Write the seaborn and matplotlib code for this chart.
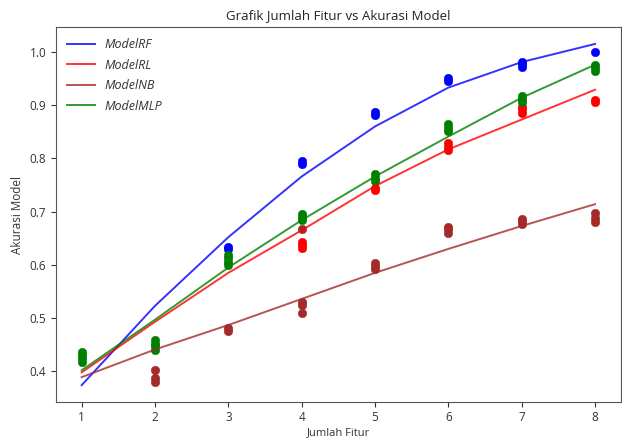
import numpy as np
import pandas as pd
import matplotlib
matplotlib.use("Agg")
import matplotlib.pyplot as plt
import seaborn as sns

plt.rcParams["font.family"] = ["Open Sans", "DejaVu Sans"]

models = ["ModelRF", "ModelRL", "ModelNB", "ModelMLP"]
colors = ["blue", "red", "brown", "green"]

fitur = [1, 2, 3, 4, 5, 6, 7, 8]
rf_fit = [0.374, 0.523, 0.652, 0.766, 0.860, 0.933, 0.981, 1.015]
rl_fit = [0.398, 0.493, 0.585, 0.665, 0.748, 0.817, 0.873, 0.929]
nb_fit = [0.389, 0.441, 0.487, 0.536, 0.585, 0.630, 0.673, 0.714]
mlp_fit = [0.402, 0.497, 0.595, 0.684, 0.766, 0.841, 0.914, 0.976]

rf_x = [3, 3, 4, 4, 5, 5, 6, 6, 7, 7, 7, 8]
rf_y = [0.629, 0.634, 0.790, 0.795, 0.882, 0.888, 0.945, 0.951, 0.972, 0.977, 0.982, 1.000]
rl_x = [4, 4, 4, 5, 5, 6, 6, 6, 7, 7, 7, 8, 8]
rl_y = [0.632, 0.638, 0.643, 0.740, 0.745, 0.815, 0.822, 0.828, 0.886, 0.892, 0.897, 0.905, 0.909]
nb_x = [2, 2, 2, 3, 3, 4, 4, 4, 4, 5, 5, 5, 6, 6, 6, 7, 7, 7, 8, 8, 8]
nb_y = [0.380, 0.388, 0.402, 0.475, 0.481, 0.510, 0.525, 0.531, 0.667, 0.592, 0.598, 0.604,
        0.660, 0.667, 0.672, 0.677, 0.683, 0.687, 0.680, 0.688, 0.698]
mlp_x = [1, 1, 1, 1, 2, 2, 2, 2, 3, 3, 3, 3, 4, 4, 4, 5, 5, 5, 6, 6, 6, 7, 7, 7, 8, 8, 8]
mlp_y = [0.418, 0.425, 0.431, 0.436, 0.440, 0.447, 0.452, 0.458, 0.600, 0.606, 0.612, 0.619,
         0.684, 0.690, 0.696, 0.757, 0.764, 0.770, 0.852, 0.858, 0.865, 0.906, 0.912, 0.918,
         0.964, 0.970, 0.975]

fits = [rf_fit, rl_fit, nb_fit, mlp_fit]
pts = [(rf_x, rf_y), (rl_x, rl_y), (nb_x, nb_y), (mlp_x, mlp_y)]

fig, ax = plt.subplots(figsize=(6.22, 4.41), dpi=100)
fig.subplots_adjust(left=0.09, right=0.998, top=0.939, bottom=0.088)

for m, c, f, (px, py) in zip(models, colors, fits, pts):
    sns.lineplot(x=fitur, y=f, ax=ax, color=c, lw=1.4, alpha=0.8, label=m)
for m, c, f, (px, py) in zip(models, colors, fits, pts):
    sns.scatterplot(x=px, y=py, ax=ax, color=c, s=38, edgecolor=c, linewidth=0.3, zorder=1)

ax.set_xticks(fitur)
ax.set_yticks([0.4, 0.5, 0.6, 0.7, 0.8, 0.9, 1.0])
ax.set_yticklabels(["0.4", "0.5", "0.6", "0.7", "0.8", "0.9", "1.0"])
ax.set_xlim(0.65, 8.35)
ax.set_ylim(0.342, 1.047)
ax.tick_params(labelsize=8.5, colors="#333333", length=3.5)
ax.tick_params(axis="x", pad=3)
for s in ax.spines.values():
    s.set_color("#555555")
ax.set_xlabel("Jumlah Fitur", fontsize=8, color="#333333", labelpad=2)
ax.set_ylabel("Akurasi Model", fontsize=8.5, color="#333333")
ax.set_title("Grafik Jumlah Fitur vs Akurasi Model", fontsize=9.5, color="#222222")
leg = ax.legend(loc="upper left", frameon=False, fontsize=9, handlelength=2.2,
                labelspacing=0.6)
for t in leg.get_texts():
    t.set_fontstyle("italic")
    t.set_color("#333333")

fig.savefig("out.png", dpi=100)
